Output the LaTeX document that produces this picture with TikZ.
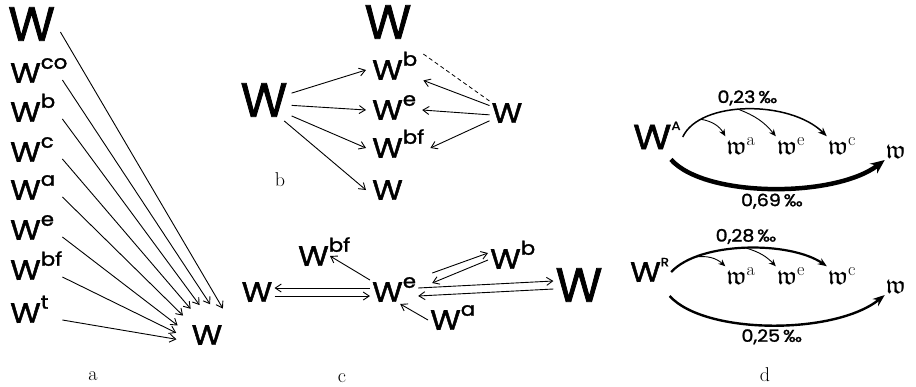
\documentclass[tikz,border=0pt]{standalone}
\usepackage{amssymb}
\usepackage{fontspec}
\newfontfamily\wfont{Poppins}[FakeStretch=1.12, FakeBold=1.6]
\newfontfamily\Wfont{Poppins}[FakeBold=1.6]
\usetikzlibrary{arrows.meta,calc}

% raised index after a W
\newcommand\up[1]{\smash{\raisebox{0.5em}{\fontsize{19}{19}\selectfont #1}}}
\newcommand\dup[1]{\smash{\raisebox{0.55em}{\fontsize{12}{12}\selectfont #1}}}
\newcommand\fw[1]{$\mathfrak{w}^{\mathrm{#1}}$}

\begin{document}
\begin{tikzpicture}[x=1pt, y=-1pt,
  bigW/.style={font=\fontsize{48}{48}\selectfont\Wfont, inner sep=2pt},
  smW/.style={font=\fontsize{28}{28}\selectfont\wfont, inner sep=2pt},
  dbig/.style={font=\fontsize{35}{35}\selectfont\wfont, inner sep=2pt},
  fr/.style={font=\fontsize{26}{26}\selectfont, inner sep=1pt},
  lbl/.style={font=\fontsize{17}{17}\selectfont\wfont, inner sep=3pt},
  panel/.style={font=\fontsize{20}{20}\selectfont},
  arr/.style={-{Straight Barb[length=6pt,width=8pt]}, line width=0.9pt},
  darr/.style={-{Stealth[length=9pt,width=7pt]}},
  darrs/.style={-{Stealth[length=7pt,width=6pt]}, line width=0.9pt}]
\useasboundingbox (0,0) rectangle (916,386);

% a
\node[bigW, anchor=west, text width=50pt] (a0) at (6,24) {W};
\node[smW, anchor=west, text width=50pt] (a1) at (8,73) {W\up{co}};
\node[smW, anchor=west, text width=50pt] (a2) at (8,112) {W\up{b}};
\node[smW, anchor=west, text width=50pt] (a3) at (8,152) {W\up{c}};
\node[smW, anchor=west, text width=50pt] (a4) at (8,190) {W\up{a}};
\node[smW, anchor=west, text width=50pt] (a5) at (8,230) {W\up{e}};
\node[smW, anchor=west, text width=50pt] (a6) at (8,270) {W\up{bf}};
\node[smW, anchor=west, text width=50pt] (a7) at (8,313) {W\up{t}};
\node[smW, circle, inner sep=9pt] (aw) at (207,335) {W};
\draw[arr] ([yshift=-8pt]a0.east) -- (aw.59);
\draw[arr] ([yshift=-7pt]a1.east) -- (aw.84);
\draw[arr] ([yshift=-7pt]a2.east) -- (aw.104);
\draw[arr] ([yshift=-7pt]a3.east) -- (aw.122);
\draw[arr] ([yshift=-7pt]a4.east) -- (aw.141);
\draw[arr] ([yshift=-7pt]a5.east) -- (aw.162);
\draw[arr] ([yshift=-7pt]a6.east) -- (aw.176);
\draw[arr] ([yshift=-7pt]a7.east) -- (aw.188);
\node[panel] (la) at (93,376) {a};

% b
\node[bigW] (b0) at (388,22) {W};
\node[bigW, inner sep=4pt] (bl) at (264,100) {W};
\node[smW, anchor=west, inner sep=6pt] (bb) at (366,70) {W\up{b}};
\node[smW, anchor=west, inner sep=6pt] (be) at (366,110) {W\up{e}};
\node[smW, anchor=west, inner sep=6pt] (bbf) at (366,148) {W\up{bf}};
\node[smW, anchor=west, inner sep=6pt] (bw) at (366,190) {W};
\node[smW] (br) at (507,113) {W};
\draw[arr] (bl.14) -- (bb.west);
\draw[arr] (bl.-11) -- (be.west);
\draw[arr] (bl.-30) -- (bbf.west);
\draw[arr] (bl.-46) -- (bw.west);
\draw[arr] (br.157) -- (bb.-20);
\draw[arr] (br.186) -- (be.east);
\draw[arr] (br.204) -- (bbf.east);
\draw[dash pattern=on 4pt off 3pt, line width=0.8pt] (bb.north east) -- (br.north west);
\node[panel] (lb) at (280,180) {b};

% c
\node[smW] (cl) at (257,292) {W};
\node[smW, anchor=west] (ce) at (370,292) {W\up{e}};
\node[smW, anchor=west] (cbf) at (296,256) {W\up{bf}};
\node[smW, anchor=west] (cb) at (488,259) {W\up{b}};
\node[bigW] (cr) at (579,285) {W};
\node[smW, anchor=west] (ca) at (428,320) {W\up{a}};
\draw[arr] ([yshift=4pt]ce.west) -- ([yshift=4pt]cl.east);
\draw[arr] ([yshift=-4pt]cl.east) -- ([yshift=-4pt]ce.west);
\draw[arr] ([yshift=4pt]ce.east) -- ([yshift=4pt]cr.west);
\draw[arr] ([yshift=-4pt]cr.west) -- ([yshift=-4pt]ce.east);
\draw[arr] (ce.north west) -- ([xshift=34pt]cbf.west);
\draw[arr] ([shift={(14pt,7pt)}]ce.north east) -- ([yshift=6pt]cb.west);
\draw[arr] ([yshift=-1pt]cb.west) -- ([shift={(14pt,-3pt)}]ce.north east);
\draw[arr] (ca.west) -- (ce.-63);
\node[panel] (lc) at (342,378) {c};

% d
\node[dbig, anchor=west] (dA) at (631,137) {W\dup{A}};
\node[fr] (dwa) at (741,146) {\fw{a}};
\node[fr] (dwe) at (791,146) {\fw{e}};
\node[fr] (dwc) at (842,146) {\fw{c}};
\node[fr] (dw) at (896,152) {$\mathfrak{w}$};
\draw[darr, line width=1.5pt] (dA.east) .. controls (700,100) and (790,100) .. coordinate[pos=0.2] (dA1) coordinate[pos=0.45] (dA2) node[above, lbl] {0,23\,‰} (dwc.north west);
\draw[darrs] (dA1) to[bend left=25] (dwa.north west);
\draw[darrs] (dA2) to[bend left=15] (dwe.north west);
\draw[line width=4.5pt, -{Stealth[length=14pt,width=12pt]}] ([shift={(14pt,-8pt)}]dA.south) .. controls (705,198) and (835,198) .. node[below, lbl] {0,69\,‰} (dw.south west);

\node[smW, anchor=west] (dR) at (628,272) {W\dup{R}};
\node[fr] (Rwa) at (741,276) {\fw{a}};
\node[fr] (Rwe) at (791,276) {\fw{e}};
\node[fr] (Rwc) at (842,276) {\fw{c}};
\node[fr] (Rw) at (896,287) {$\mathfrak{w}$};
\draw[darr, line width=2.2pt] (dR.east) .. controls (700,241) and (790,241) .. coordinate[pos=0.2] (dR1) coordinate[pos=0.5] (dR2) node[above, lbl] {0,28\,‰} (Rwc.north west);
\draw[darrs] (dR1) to[bend left=25] (Rwa.north west);
\draw[darrs] (dR2) to[bend left=15] (Rwe.north west);
\draw[line width=2.4pt, -{Stealth[length=12pt,width=9pt]}] ([shift={(20pt,-12pt)}]dR.south) .. controls (705,335) and (835,335) .. node[below, lbl] {0,25\,‰} (Rw.south west);
\node[panel] (ld) at (765,375) {d};
\end{tikzpicture}
\end{document}
